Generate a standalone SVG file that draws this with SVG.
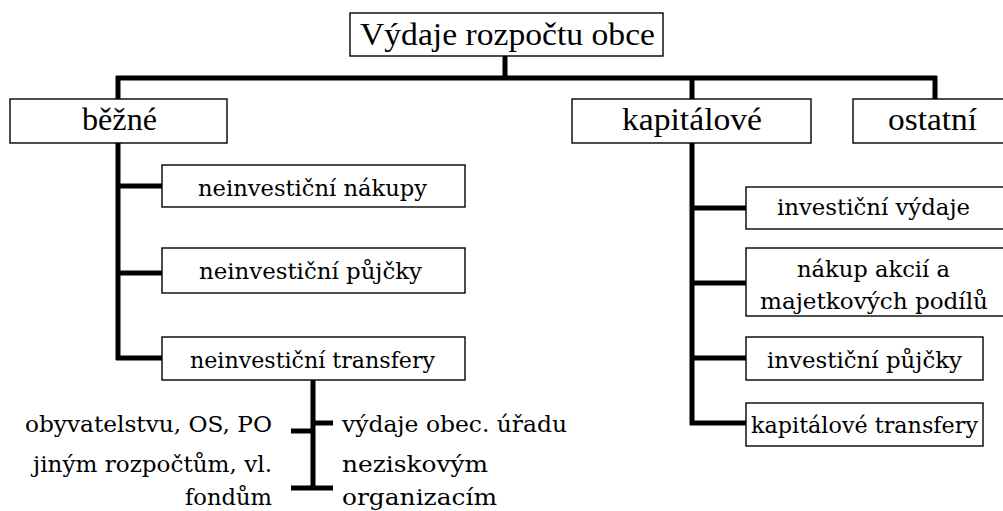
<svg xmlns="http://www.w3.org/2000/svg" width="1003" height="511" viewBox="0 0 1003 511">
<style>
.box{fill:#fff;stroke:#000;stroke-width:1.4}
.big{font-family:"Liberation Serif","Times New Roman",serif;font-size:32px;fill:#000}
.sm{font-family:"DejaVu Serif","Liberation Serif",serif;font-size:22px;fill:#000}
.ln{stroke:#000;stroke-width:5;fill:none;stroke-linecap:butt}
</style>
<rect width="1003" height="511" fill="#fff"/>
<g id="connectors">
<path class="ln" d="M505 56V78M116 78H937M118 76V99M692 76V99M935 76V99"/>
<path class="ln" d="M118 143V360M116 186H162M116 273H162M116 358H162"/>
<path class="ln" d="M692 143V425M690 208H746M690 283H746M690 358H746M690 423H746"/>
<path class="ln" d="M313 380V490M291 431H313M313 423H333M291 488H333"/>
</g>
<g id="n-root"><rect class="box" x="350" y="13" width="313" height="43"/><text class="big" x="360" y="45" textLength="295" lengthAdjust="spacingAndGlyphs">Výdaje rozpočtu obce</text></g>
<g id="n-bezne"><rect class="box" x="10" y="99" width="217" height="44"/><text class="big" x="82" y="130" textLength="75" lengthAdjust="spacingAndGlyphs">běžné</text></g>
<g id="n-kapitalove"><rect class="box" x="572" y="99" width="239" height="44"/><text class="big" x="622" y="130" textLength="140" lengthAdjust="spacingAndGlyphs">kapitálové</text></g>
<g id="n-ostatni"><rect class="box" x="853" y="99" width="160" height="44"/><text class="big" x="888" y="130" textLength="89" lengthAdjust="spacingAndGlyphs">ostatní</text></g>
<g id="n-nakupy"><rect class="box" x="162" y="165" width="303" height="42"/><text class="sm" x="198" y="196" textLength="229" lengthAdjust="spacingAndGlyphs">neinvestiční nákupy</text></g>
<g id="n-pujcky"><rect class="box" x="162" y="248" width="303" height="45"/><text class="sm" x="199" y="279" textLength="223" lengthAdjust="spacingAndGlyphs">neinvestiční půjčky</text></g>
<g id="n-transfery"><rect class="box" x="162" y="337" width="303" height="43"/><text class="sm" x="190" y="368" textLength="245" lengthAdjust="spacingAndGlyphs">neinvestiční transfery</text></g>
<g id="n-invvydaje"><rect class="box" x="746" y="187" width="267" height="42"/><text class="sm" x="777" y="215" textLength="193" lengthAdjust="spacingAndGlyphs">investiční výdaje</text></g>
<g id="n-akcie"><rect class="box" x="746" y="248" width="267" height="68"/><text class="sm" x="797" y="277" textLength="153" lengthAdjust="spacingAndGlyphs">nákup akcií a</text><text class="sm" x="760" y="309" textLength="228" lengthAdjust="spacingAndGlyphs">majetkových podílů</text></g>
<g id="n-invpujcky"><rect class="box" x="746" y="337" width="237" height="43"/><text class="sm" x="767" y="368" textLength="195" lengthAdjust="spacingAndGlyphs">investiční půjčky</text></g>
<g id="n-kaptransfery"><rect class="box" x="746" y="403" width="237" height="43"/><text class="sm" x="751" y="433" textLength="227" lengthAdjust="spacingAndGlyphs">kapitálové transfery</text></g>
<g id="n-left">
<text class="sm" x="25" y="432" textLength="247" lengthAdjust="spacingAndGlyphs">obyvatelstvu, OS, PO</text>
<text class="sm" x="33" y="472" textLength="239" lengthAdjust="spacingAndGlyphs">jiným rozpočtům, vl.</text>
<text class="sm" x="185" y="505" textLength="87" lengthAdjust="spacingAndGlyphs">fondům</text>
</g>
<g id="n-right">
<text class="sm" x="342" y="432" textLength="225" lengthAdjust="spacingAndGlyphs">výdaje obec. úřadu</text>
<text class="sm" x="342" y="472" textLength="146" lengthAdjust="spacingAndGlyphs">neziskovým</text>
<text class="sm" x="342" y="505" textLength="155" lengthAdjust="spacingAndGlyphs">organizacím</text>
</g>
</svg>
